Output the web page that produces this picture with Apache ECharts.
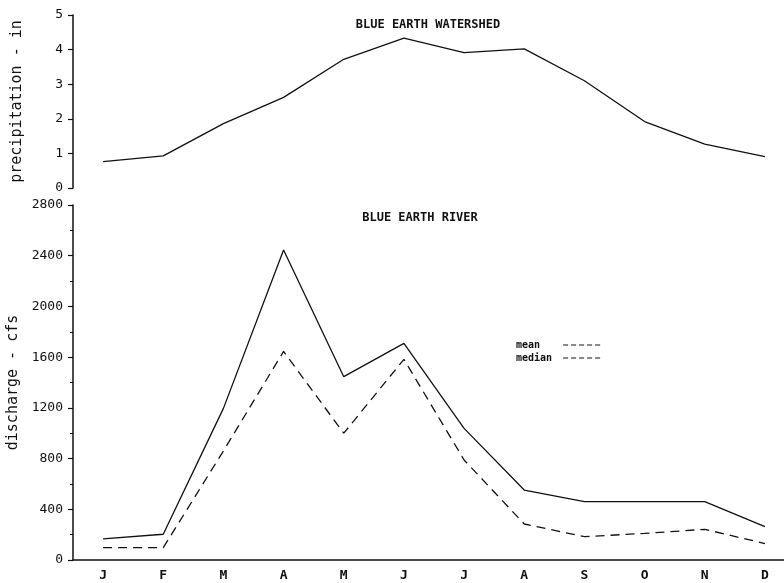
<!DOCTYPE html>
<html>
<head>
<meta charset="utf-8">
<script src="https://cdn.jsdelivr.net/npm/echarts@6/dist/echarts.min.js"></script>
<style>
html,body{margin:0;padding:0;background:#fff;}
#c{width:784px;height:583px;}
</style>
</head>
<body>
<div id="c"></div>
<script>
const months = ['J','F','M','A','M','J','J','A','S','O','N','D'];
const precipitation = [0.76,0.93,1.86,2.62,3.72,4.33,3.91,4.02,3.10,1.92,1.27,0.91];
const meanDischarge = [166,203,1196,2445,1446,1709,1038,552,460,460,460,263];
const medianDischarge = [97,97,860,1645,1000,1583,789,284,184,210,242,130];
const precipTicks = [0,1,2,3,4,5];
const dischargeTicks = [0,400,800,1200,1600,2000,2400,2800];

const FONT = '"DejaVu Sans Mono", "Liberation Mono", monospace';
const INK = '#111';

const chart = echarts.init(document.getElementById('c'));
const yCommon = {
  type: 'value',
  nameLocation: 'middle',
  nameRotate: 90,
  nameTextStyle: {fontFamily: FONT, fontSize: 15, color: INK},
  axisLine: {show: true, lineStyle: {color: INK, width: 1.5}},
  axisTick: {show: true, inside: false, length: 5, lineStyle: {color: INK, width: 1.2}},
  axisLabel: {fontFamily: FONT, fontSize: 13, color: INK, margin: 10, formatter: v => String(v)},
  splitLine: {show: false}
};
const legendCommon = {
  orient: 'vertical', align: 'right', itemWidth: 37, itemHeight: 8, itemGap: 2,
  itemStyle: {opacity: 0},
  formatter: name => name.padEnd(7, ' '),
  textStyle: {fontFamily: FONT, fontSize: 10, fontWeight: 'bold', color: INK}
};
chart.setOption({
  backgroundColor: '#fff',
  animation: false,
  title: [
    {text: 'BLUE EARTH WATERSHED', left: 423, top: 14, textAlign: 'center',
     textStyle: {fontFamily: FONT, fontSize: 12, fontWeight: 'bold', color: INK}},
    {text: 'BLUE EARTH RIVER', left: 415, top: 207, textAlign: 'center',
     textStyle: {fontFamily: FONT, fontSize: 12, fontWeight: 'bold', color: INK}}
  ],
  legend: [
    Object.assign({}, legendCommon, {data: [{name: 'mean', lineStyle: {type: [5, 3], width: 1}}], left: 511, top: 335}),
    Object.assign({}, legendCommon, {data: [{name: 'median', lineStyle: {type: [5, 3], width: 1}}], left: 511, top: 348})
  ],
  grid: [
    {left: 73, top: 15, height: 173, right: -11, outerBoundsMode: 'none', containLabel: false},
    {left: 73, top: 205, height: 355, right: -11, outerBoundsMode: 'none', containLabel: false}
  ],
  xAxis: [
    {type: 'category', gridIndex: 0, data: months, boundaryGap: true,
     axisLine: {show: false}, axisTick: {show: false}, axisLabel: {show: false}},
    {type: 'category', gridIndex: 1, data: months, boundaryGap: true,
     axisLine: {show: true, lineStyle: {color: INK, width: 1.5}}, axisTick: {show: false},
     axisLabel: {fontFamily: FONT, fontSize: 13, fontWeight: 'bold', color: INK, margin: 9}}
  ],
  yAxis: [
    Object.assign({}, yCommon, {gridIndex: 0, min: precipTicks[0], max: precipTicks[precipTicks.length-1], interval: 1,
      name: 'precipitation - in', nameGap: 48}),
    Object.assign({}, yCommon, {gridIndex: 1, min: dischargeTicks[0], max: dischargeTicks[dischargeTicks.length-1], interval: 400,
      name: 'discharge - cfs', nameGap: 48,
      minorTick: {show: true, splitNumber: 2, length: 3, lineStyle: {color: INK, width: 1}}})
  ],
  series: [
    {name: 'precipitation', type: 'line', xAxisIndex: 0, yAxisIndex: 0, data: precipitation,
     symbol: 'none', lineStyle: {color: INK, width: 1.3}},
    {name: 'mean', type: 'line', xAxisIndex: 1, yAxisIndex: 1, data: meanDischarge,
     symbol: 'none', lineStyle: {color: INK, width: 1.3}, itemStyle: {color: INK}},
    {name: 'median', type: 'line', xAxisIndex: 1, yAxisIndex: 1, data: medianDischarge,
     symbol: 'none', lineStyle: {color: INK, width: 1.3, type: [9, 6]}, itemStyle: {color: INK}}
  ]
});
</script>
</body>
</html>
